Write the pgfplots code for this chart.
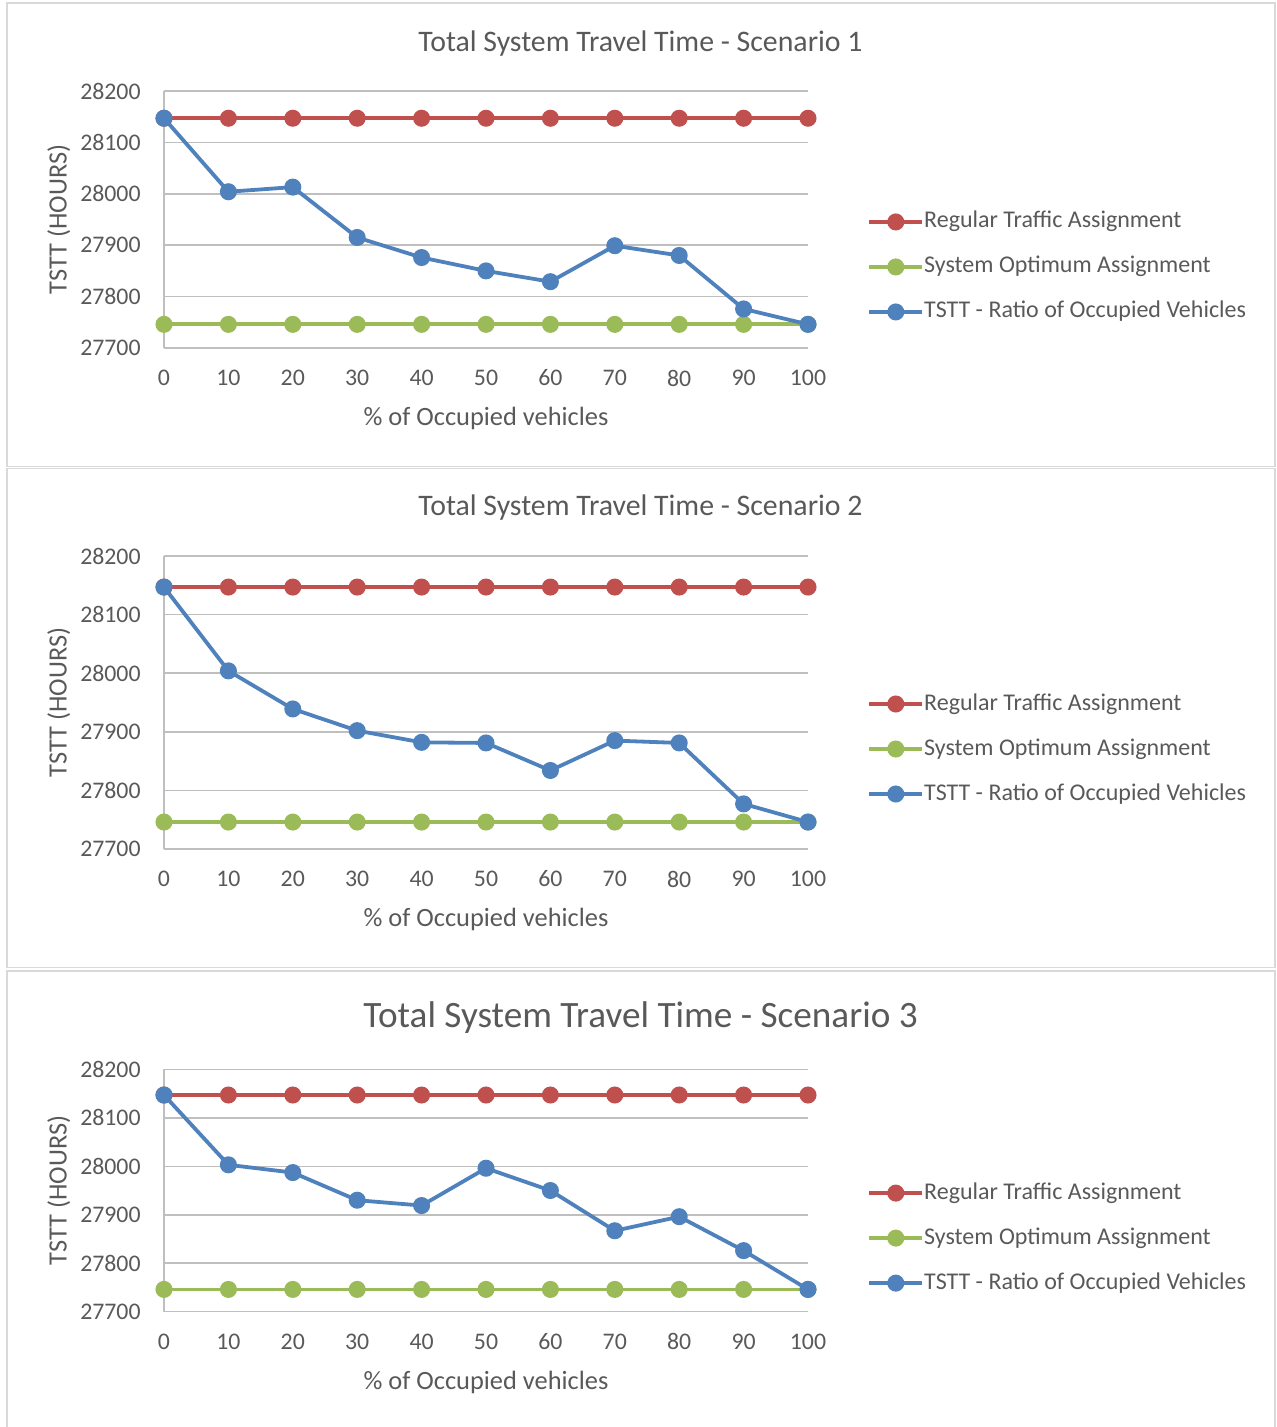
\documentclass[border=0pt]{standalone}
\usepackage{pgfplots}
\pgfplotsset{compat=1.18}
\usepackage{fontspec}
\setmainfont{Carlito}
\definecolor{txt}{HTML}{595959}
\definecolor{cred}{HTML}{C0504D}
\definecolor{cgreen}{HTML}{9BBB59}
\definecolor{cblue}{HTML}{4F81BD}
\definecolor{grid}{HTML}{D9D9D9}
\definecolor{axl}{HTML}{BFBFBF}
\definecolor{frame}{HTML}{D9D9D9}
\pgfplotsset{
  tsttaxis/.style={
    scale only axis,
    width=322pt,
    xmin=0, xmax=100, ymin=27700, ymax=28200,
    xtick={0,10,...,100}, ytick={27700,27800,...,28200},
    scaled y ticks=false,
    axis x line*=bottom, axis y line*=left,
    axis line style={axl, line width=0.75pt, -},
    xmajorgrids=false, ymajorgrids=true, grid style={grid, line width=0.75pt},
    major tick length=0pt, tick style={draw=none},
    /pgf/number format/.cd, 1000 sep={}, assume math mode=true, /pgfplots/.cd,
    tick label style={font=\fontsize{11.9}{14}\selectfont, text=txt, inner sep=0pt},
    xticklabel style={anchor=center, yshift=-15pt},
    yticklabel style={anchor=east, xshift=-11.5pt},
    xlabel={\% of Occupied vehicles},
    ylabel={TSTT (HOURS)},
    label style={font=\fontsize{13.2}{15}\selectfont, text=txt, inner sep=0pt},
    xlabel style={at={(axis description cs:0.5,0)}, anchor=base, yshift=-38.75pt},
    ylabel style={at={(axis description cs:0,0.5)}, anchor=base, yshift=48.75pt},
    legend cell align=left,
    legend image code/.code={\draw[mark repeat=2,mark phase=2] plot coordinates {(0pt,0pt)(13.25pt,0pt)(26.5pt,0pt)};},
    legend style={draw=none, fill=none, inner sep=0pt, font=\fontsize{12}{14}\selectfont, text=txt,
      nodes={inner sep=0pt, text height=8.5pt, text depth=2.5pt},
      row sep=11.5pt,
      /tikz/every even column/.append style={column sep=3.5pt}},
    every axis plot/.append style={line width=1.9pt, mark=*, mark size=3.3pt, mark options={solid}},
  }
}
\begin{document}
\begin{tikzpicture}
\useasboundingbox (0pt,0pt) rectangle (638pt,-713.5pt);
% panel frames
\draw[frame, line width=0.75pt] (3.5pt,-1.5pt) rectangle (637.5pt,-233.25pt);
\draw[frame, line width=0.75pt] (3.5pt,-234.25pt) rectangle (637.5pt,-483.75pt);
\draw[frame, line width=0.75pt] (3.5pt,-720pt) -- (3.5pt,-485.5pt) -- (637.5pt,-485.5pt) -- (637.5pt,-720pt);
% titles
\node[anchor=base, text=txt, font=\fontsize{14.9}{17}\selectfont, inner sep=0pt] at (320.25pt,-25.75pt) {Total System Travel Time - Scenario 1};
\node[anchor=base, text=txt, font=\fontsize{14.9}{17}\selectfont, inner sep=0pt] at (320.25pt,-257.7pt) {Total System Travel Time - Scenario 2};
\node[anchor=base, text=txt, font=\fontsize{18.6}{21}\selectfont, inner sep=0pt] at (320.25pt,-513.9pt) {Total System Travel Time - Scenario 3};

% Scenario 1
\begin{axis}[tsttaxis, at={(82pt,-174pt)}, anchor=south west, height=128.5pt,
  legend style={at={(rel axis cs:1.0916,0.327)}, anchor=west, yshift=-1.5pt}]
\addplot[cred, mark options={fill=cred}] coordinates {(0,28147)(10,28147)(20,28147)(30,28147)(40,28147)(50,28147)(60,28147)(70,28147)(80,28147)(90,28147)(100,28147)};
\addplot[cgreen, mark options={fill=cgreen}] coordinates {(0,27746)(10,27746)(20,27746)(30,27746)(40,27746)(50,27746)(60,27746)(70,27746)(80,27746)(90,27746)(100,27746)};
\addplot[cblue, mark options={fill=cblue}] coordinates {(0,28147)(10,28004)(20,28013)(30,27915)(40,27876)(50,27850)(60,27829)(70,27899)(80,27880)(90,27776)(100,27746)};
\legend{Regular Traffic Assignment, System Optimum Assignment, TSTT - Ratio of Occupied Vehicles}
\end{axis}

% Scenario 2
\begin{axis}[tsttaxis, at={(82pt,-424.5pt)}, anchor=south west, height=146.5pt,
  legend style={at={(rel axis cs:1.0916,0.3515)}, anchor=west, yshift=-1.5pt}]
\addplot[cred, mark options={fill=cred}] coordinates {(0,28147)(10,28147)(20,28147)(30,28147)(40,28147)(50,28147)(60,28147)(70,28147)(80,28147)(90,28147)(100,28147)};
\addplot[cgreen, mark options={fill=cgreen}] coordinates {(0,27746)(10,27746)(20,27746)(30,27746)(40,27746)(50,27746)(60,27746)(70,27746)(80,27746)(90,27746)(100,27746)};
\addplot[cblue, mark options={fill=cblue}] coordinates {(0,28147)(10,28004)(20,27939)(30,27902)(40,27882)(50,27881)(60,27834)(70,27885)(80,27881)(90,27777)(100,27746)};
\legend{Regular Traffic Assignment, System Optimum Assignment, TSTT - Ratio of Occupied Vehicles}
\end{axis}

% Scenario 3
\begin{axis}[tsttaxis, at={(82pt,-655.85pt)}, anchor=south west, height=121.2pt,
  legend style={at={(rel axis cs:1.0916,0.316)}, anchor=west, yshift=-1.5pt}]
\addplot[cred, mark options={fill=cred}] coordinates {(0,28147)(10,28147)(20,28147)(30,28147)(40,28147)(50,28147)(60,28147)(70,28147)(80,28147)(90,28147)(100,28147)};
\addplot[cgreen, mark options={fill=cgreen}] coordinates {(0,27746)(10,27746)(20,27746)(30,27746)(40,27746)(50,27746)(60,27746)(70,27746)(80,27746)(90,27746)(100,27746)};
\addplot[cblue, mark options={fill=cblue}] coordinates {(0,28147)(10,28003)(20,27987)(30,27930)(40,27919)(50,27996)(60,27950)(70,27867)(80,27896)(90,27826)(100,27746)};
\legend{Regular Traffic Assignment, System Optimum Assignment, TSTT - Ratio of Occupied Vehicles}
\end{axis}
\end{tikzpicture}
\end{document}
